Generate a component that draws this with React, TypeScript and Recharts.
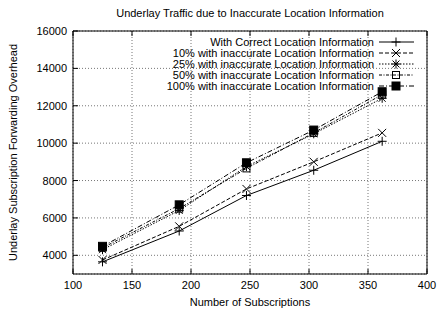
import React from "react";
import { LineChart, Line, XAxis, YAxis, CartesianGrid, Legend } from "recharts";

const subscriptions = [125, 190, 247, 304, 362];
const correct = [3650, 5300, 7200, 8550, 10100];
const inacc10 = [3750, 5550, 7550, 9000, 10550];
const inacc25 = [4300, 6400, 8750, 10500, 12400];
const inacc50 = [4400, 6500, 8650, 10550, 12600];
const inacc100 = [4480, 6700, 8950, 10700, 12750];

const seriesNames = [
  "With Correct Location Information",
  "10% with inaccurate Location Information",
  "25% with inaccurate Location Information",
  "50% with inaccurate Location Information",
  "100% with inaccurate Location Information",
];
const xTicks = [100, 150, 200, 250, 300, 350, 400];
const yTicks = [4000, 6000, 8000, 10000, 12000, 14000, 16000];
const title = "Underlay Traffic due to Inaccurate Location Information";
const xLabel = "Number of Subscriptions";
const yLabel = "Underlay Subscription Forwarding Overhead";

const keys = ["correct", "inacc10", "inacc25", "inacc50", "inacc100"];
const seriesValues = [correct, inacc10, inacc25, inacc50, inacc100];
const data = subscriptions.map((s, i) => {
  const row: any = { x: s };
  keys.forEach((k, j) => (row[k] = seriesValues[j][i]));
  return row;
});

const FONT = "'Liberation Sans', Arial, Helvetica, sans-serif";
const kinds = ["plus", "cross", "star", "square", "filled"];
const dashes = ["", "4 2", "1.5 1.5", "3 1.5 1 1.5", "5 2 1 2"];

function Marker({ kind, cx, cy }: { kind: string; cx: number; cy: number }) {
  const s = { stroke: "#000", strokeWidth: 1, fill: "none" };
  if (kind === "plus")
    return (
      <g>
        <line x1={cx - 4.5} x2={cx + 4.5} y1={cy} y2={cy} {...s} />
        <line x1={cx} x2={cx} y1={cy - 4.5} y2={cy + 4.5} {...s} />
      </g>
    );
  if (kind === "cross")
    return (
      <g>
        <line x1={cx - 4} x2={cx + 4} y1={cy - 4} y2={cy + 4} {...s} />
        <line x1={cx - 4} x2={cx + 4} y1={cy + 4} y2={cy - 4} {...s} />
      </g>
    );
  if (kind === "star")
    return (
      <g>
        <line x1={cx - 4.5} x2={cx + 4.5} y1={cy} y2={cy} {...s} />
        <line x1={cx} x2={cx} y1={cy - 4.5} y2={cy + 4.5} {...s} />
        <line x1={cx - 3.5} x2={cx + 3.5} y1={cy - 3.5} y2={cy + 3.5} {...s} />
        <line x1={cx - 3.5} x2={cx + 3.5} y1={cy + 3.5} y2={cy - 3.5} {...s} />
      </g>
    );
  if (kind === "square")
    return <rect x={cx - 3.5} y={cy - 3.5} width={7} height={7} {...s} />;
  return <rect x={cx - 4} y={cy - 4} width={8} height={8} fill="#000" stroke="#000" />;
}

const makeDot = (kind: string) => (props: any) => {
  const { cx, cy, index } = props;
  if (cx == null || cy == null) return <g key={index} />;
  return (
    <g key={`${kind}-${index}`}>
      <Marker kind={kind} cx={cx} cy={cy} />
    </g>
  );
};

const XTickBottom = (props: any) => {
  const { x, y, payload } = props;
  return (
    <g>
      <line x1={x} x2={x} y1={y} y2={y - 5} stroke="#000" />
      <text x={x} y={y + 15} textAnchor="middle" fontSize={11} fontFamily={FONT} fill="#000">
        {payload.value}
      </text>
    </g>
  );
};
const XTickTop = (props: any) => {
  const { x, y } = props;
  return <line x1={x} x2={x} y1={y} y2={y + 5} stroke="#000" />;
};
const YTickLeft = (props: any) => {
  const { x, y, payload } = props;
  return (
    <g>
      <line x1={x} x2={x + 5} y1={y} y2={y} stroke="#000" />
      <text x={x - 6} y={y + 4} textAnchor="end" fontSize={11} fontFamily={FONT} fill="#000">
        {payload.value}
      </text>
    </g>
  );
};
const YTickRight = (props: any) => {
  const { x, y } = props;
  return <line x1={x} x2={x - 5} y1={y} y2={y} stroke="#000" />;
};

const LegendContent = () => (
  <svg width={438} height={311} style={{ position: "absolute", left: 0, top: 0, pointerEvents: "none" }}>
    {seriesNames.map((name, i) => {
      const y = 42 + i * 11;
      return (
        <g key={name}>
          <text x={374} y={y + 4} textAnchor="end" fontSize={11} fontFamily={FONT} fill="#000">
            {name}
          </text>
          <line x1={379} x2={414} y1={y} y2={y} stroke="#000" strokeDasharray={dashes[i] || undefined} />
          <Marker kind={kinds[i]} cx={396} cy={y} />
        </g>
      );
    })}
  </svg>
);

export default function App() {
  return (
    <div style={{ position: "absolute", left: 0, top: 0, background: "#fff" }}>
      <LineChart
        width={438}
        height={311}
        data={data}
        margin={{ top: 0, right: 0, bottom: 0, left: 0 }}
      >
        <CartesianGrid stroke="#777" strokeDasharray="1 2" xAxisId={0} yAxisId={0} />
        <XAxis
          xAxisId={0}
          dataKey="x"
          type="number"
          domain={[100, 400]}
          ticks={xTicks}
          height={37}
          tickSize={0}
          tickMargin={0}
          tickLine={false}
          axisLine={{ stroke: "#000" }}
          tick={(p: any) => <XTickBottom {...p} />}
          interval={0}
          label={{ value: xLabel, position: "insideBottom", offset: 5, fontSize: 11, fontFamily: FONT, fill: "#000" }}
        />
        <XAxis
          xAxisId="top"
          orientation="top"
          dataKey="x"
          type="number"
          domain={[100, 400]}
          ticks={xTicks}
          height={31}
          tickSize={0}
          tickMargin={0}
          tickLine={false}
          axisLine={{ stroke: "#000" }}
          tick={(p: any) => <XTickTop {...p} />}
          interval={0}
          label={{ value: title, position: "insideTop", offset: 9, fontSize: 11, fontFamily: FONT, fill: "#000" }}
        />
        <YAxis
          yAxisId={0}
          type="number"
          domain={[3000, 16000]}
          ticks={yTicks}
          width={73}
          tickSize={0}
          tickMargin={0}
          tickLine={false}
          axisLine={{ stroke: "#000" }}
          tick={(p: any) => <YTickLeft {...p} />}
          interval={0}
          label={{
            value: yLabel,
            angle: -90,
            position: "insideLeft",
            offset: 13,
            fontSize: 11,
            fontFamily: FONT,
            fill: "#000",
            style: { textAnchor: "middle" },
          }}
        />
        <YAxis
          yAxisId="right"
          orientation="right"
          type="number"
          domain={[3000, 16000]}
          ticks={yTicks}
          width={11}
          tickSize={0}
          tickMargin={0}
          tickLine={false}
          axisLine={{ stroke: "#000" }}
          tick={(p: any) => <YTickRight {...p} />}
          interval={0}
        />
        <Legend
          layout="horizontal"
          verticalAlign="middle"
          align="center"
          wrapperStyle={{ position: "absolute", left: 0, top: 0, width: 438, height: 311, pointerEvents: "none" }}
          content={() => <LegendContent />}
        />
        {keys.map((k, i) => (
          <Line
            key={k}
            xAxisId={0}
            yAxisId={0}
            type="linear"
            dataKey={k}
            name={seriesNames[i]}
            stroke="#000"
            strokeWidth={1}
            strokeDasharray={dashes[i] || undefined}
            dot={makeDot(kinds[i])}
            activeDot={false}
            isAnimationActive={false}
            legendType="none"
          />
        ))}
      </LineChart>
    </div>
  );
}
